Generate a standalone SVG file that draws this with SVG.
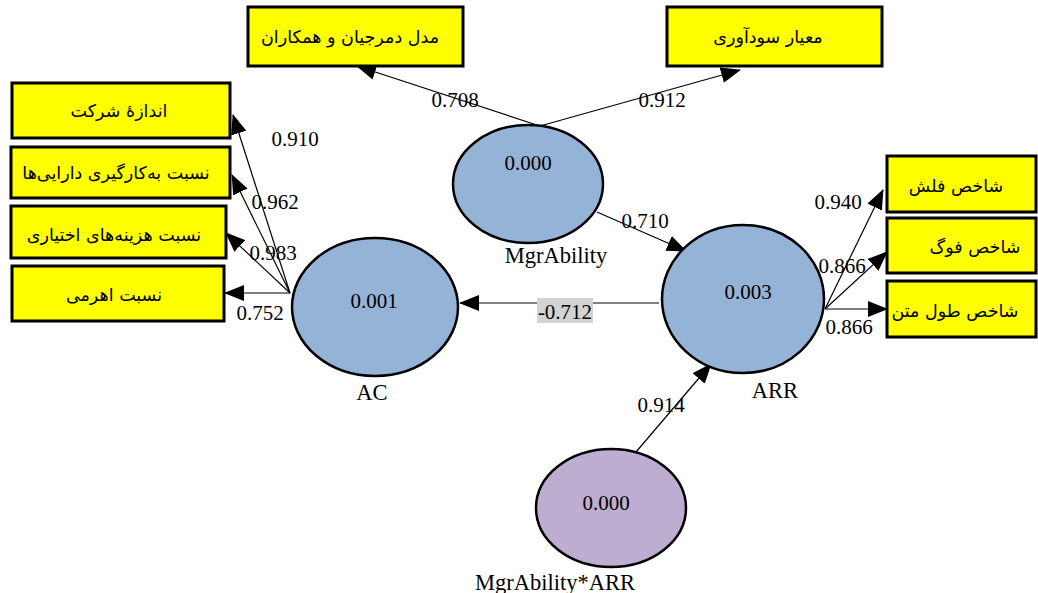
<svg xmlns="http://www.w3.org/2000/svg" width="1038" height="593" viewBox="0 0 1038 593">
<style>
.box{fill:#ffff00;stroke:#000;stroke-width:3}
.fa{font-family:"DejaVu Sans","Noto Sans",sans-serif;font-size:17.5px;fill:#000;text-anchor:middle;direction:rtl}
.lv{fill:#95b3d7;stroke:#000;stroke-width:2.5}
.mod{fill:#bcadd1;stroke:#000;stroke-width:2.5}
.t{font-family:"Liberation Serif","Times New Roman",serif;font-size:21px;fill:#000;text-anchor:middle}
.n{font-family:"Liberation Serif","Times New Roman",serif;font-size:22.5px;fill:#000;text-anchor:middle}
.ln{stroke:#000;stroke-width:1.2;fill:none}
</style>
<defs>
<marker id="ah" markerUnits="userSpaceOnUse" markerWidth="20" markerHeight="16" viewBox="0 0 20 16" refX="19" refY="8" orient="auto">
<path d="M0,0 L20,8 L0,16 Z" fill="#000"/>
</marker>
</defs>
<rect width="1038" height="593" fill="#fff"/>
<g id="connectors">
<line class="ln" x1="290" y1="293" x2="233" y2="115" marker-end="url(#ah)"/>
<line class="ln" x1="290" y1="293" x2="232" y2="175" marker-end="url(#ah)"/>
<line class="ln" x1="290" y1="293" x2="226" y2="233" marker-end="url(#ah)"/>
<line class="ln" x1="290" y1="293" x2="225" y2="293" marker-end="url(#ah)"/>
<line class="ln" x1="540" y1="126" x2="357" y2="66" marker-end="url(#ah)"/>
<line class="ln" x1="540" y1="126" x2="740" y2="70" marker-end="url(#ah)"/>
<line class="ln" x1="825" y1="309" x2="883" y2="190" marker-end="url(#ah)"/>
<line class="ln" x1="825" y1="309" x2="887" y2="252" marker-end="url(#ah)"/>
<line class="ln" x1="825" y1="309" x2="887" y2="309" marker-end="url(#ah)"/>
<line class="ln" x1="597" y1="212" x2="686" y2="251" stroke-width="1.5" marker-end="url(#ah)"/>
<line class="ln" x1="659" y1="303" x2="460" y2="303" stroke-width="1.5" marker-end="url(#ah)"/>
<line class="ln" x1="636" y1="452" x2="711" y2="364" stroke-width="2" marker-end="url(#ah)"/>
<text class="t" x="455" y="107">0.708</text>
<text class="t" x="662" y="107">0.912</text>
<text class="t" x="295" y="146">0.910</text>
<text class="t" x="275" y="209">0.962</text>
<text class="t" x="273" y="260">0.983</text>
<text class="t" x="260" y="320">0.752</text>
<text class="t" x="645" y="228">0.710</text>
<rect x="537" y="298" width="56" height="25" fill="#d3d3d3"/>
<text class="t" x="565" y="319">-0.712</text>
<text class="t" x="838" y="209">0.940</text>
<text class="t" x="842" y="273">0.866</text>
<text class="t" x="849" y="334">0.866</text>
<text class="t" x="661" y="412">0.914</text>
</g>
<g id="box-andaze">
<rect class="box" x="12" y="83" width="218" height="55"/>
<text class="fa" x="119" y="117">اندازهٔ شرکت</text>
</g>
<g id="box-bekargiri">
<rect class="box" x="11" y="147" width="219" height="51"/>
<text class="fa" x="116" y="179">نسبت به‌کارگیری دارایی‌ها</text>
</g>
<g id="box-hazine">
<rect class="box" x="11" y="206" width="215" height="52"/>
<text class="fa" x="114" y="241">نسبت هزینه‌های اختیاری</text>
</g>
<g id="box-ahrami">
<rect class="box" x="12" y="266" width="212" height="55"/>
<text class="fa" x="114" y="301">نسبت اهرمی</text>
</g>
<g id="box-demerjian">
<rect class="box" x="248" y="7" width="215" height="59"/>
<text class="fa" x="350" y="43">مدل دمرجیان و همکاران</text>
</g>
<g id="box-sudavari">
<rect class="box" x="667" y="7" width="215" height="59"/>
<text class="fa" x="768" y="43">معیار سودآوری</text>
</g>
<g id="box-flesh">
<rect class="box" x="887" y="156" width="149" height="56"/>
<text class="fa" x="956" y="192">شاخص فلش</text>
</g>
<g id="box-fog">
<rect class="box" x="887" y="218" width="149" height="55"/>
<text class="fa" x="975" y="253">شاخص فوگ</text>
</g>
<g id="box-tool">
<rect class="box" x="887" y="281" width="149" height="56"/>
<text class="fa" x="955" y="317">شاخص طول متن</text>
</g>
<g id="MgrAbility">
<ellipse class="lv" cx="528" cy="184" rx="75" ry="59"/>
<text class="t" x="528" y="170">0.000</text>
<text class="n" x="556" y="263">MgrAbility</text>
</g>
<g id="AC">
<ellipse class="lv" cx="375" cy="307" rx="83" ry="69"/>
<text class="t" x="374" y="308">0.001</text>
<text class="n" x="372" y="400">AC</text>
</g>
<g id="ARR">
<ellipse class="lv" cx="743" cy="299" rx="81" ry="74"/>
<text class="t" x="748" y="299">0.003</text>
<text class="n" x="775" y="398">ARR</text>
</g>
<g id="MgrAbilityxARR">
<ellipse class="mod" cx="611" cy="508" rx="75" ry="59"/>
<text class="t" x="606" y="510">0.000</text>
<text class="n" x="555" y="590">MgrAbility*ARR</text>
</g>
</svg>
